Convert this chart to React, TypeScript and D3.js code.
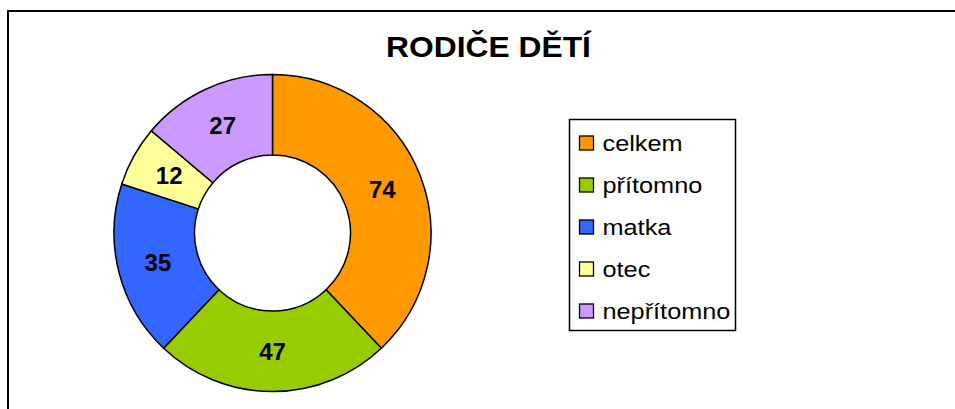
import * as d3 from "d3"

const categories = ["celkem", "přítomno", "matka", "otec", "nepřítomno"]
const values = [74, 47, 35, 12, 27]
const colors = ["#FF9900", "#99CC00", "#3366FF", "#FFFF99", "#CC99FF"]
const title = "RODIČE DĚTÍ"

type Slice = { name: string; value: number; color: string }

const slices: Slice[] = categories.map((name, i) => ({ name, value: values[i], color: colors[i] }))

export default function App() {
  const width = 955
  const height = 409
  const cx = 272.5
  const cy = 233
  const outerR = 158.5
  const innerR = 78

  const pie = d3.pie<Slice>().value(d => d.value).sort(null)
  const arc = d3.arc<d3.PieArcDatum<Slice>>().innerRadius(innerR).outerRadius(outerR)
  const arcs = pie(slices)

  // legend layout
  const legend = { x: 569.5, y: 119.5, w: 166, h: 211, rowH: 42 }

  return (
    <svg
      width={width}
      height={height}
      style={{ position: "absolute", left: 0, top: 0, background: "#fff" }}
      fontFamily="Arial, 'Liberation Sans', sans-serif"
    >
      {/* chart frame, runs off the right and bottom edges */}
      <rect x={8} y={11} width={960} height={420} fill="#fff" stroke="#000" strokeWidth={2} />

      {/* text in the original is a bit wide, stretch it slightly */}
      <text
        transform="translate(488.5,57) scale(1.06,1)"
        textAnchor="middle"
        fontSize={30}
        fontWeight="bold"
        fill="#000"
      >
        {title}
      </text>

      <g transform={`translate(${cx},${cy})`}>
        {arcs.map(a => (
          <path key={a.data.name} d={arc(a) ?? ""} fill={a.data.color} stroke="#000" strokeWidth={1.5} />
        ))}
        {arcs.map(a => {
          const [x, y] = arc.centroid(a)
          return (
            <text
              key={a.data.name + "-lbl"}
              x={x}
              y={y}
              dy="0.36em"
              textAnchor="middle"
              fontSize={24}
              fontWeight="bold"
              fill="#000"
            >
              {a.data.value}
            </text>
          )
        })}
      </g>

      <g transform={`translate(${legend.x},${legend.y})`}>
        <rect width={legend.w} height={legend.h} fill="#fff" stroke="#000" strokeWidth={1.5} />
        {slices.map((s, i) => (
          <g key={s.name} transform={`translate(10,${23.5 + i * legend.rowH})`}>
            <rect x={0} y={-7} width={14} height={14} fill={s.color} stroke="#000" strokeWidth={1.3} />
            <text transform="translate(23,0) scale(1.15,1)" dy="0.36em" fontSize={22} fill="#000">
              {s.name}
            </text>
          </g>
        ))}
      </g>
    </svg>
  )
}
